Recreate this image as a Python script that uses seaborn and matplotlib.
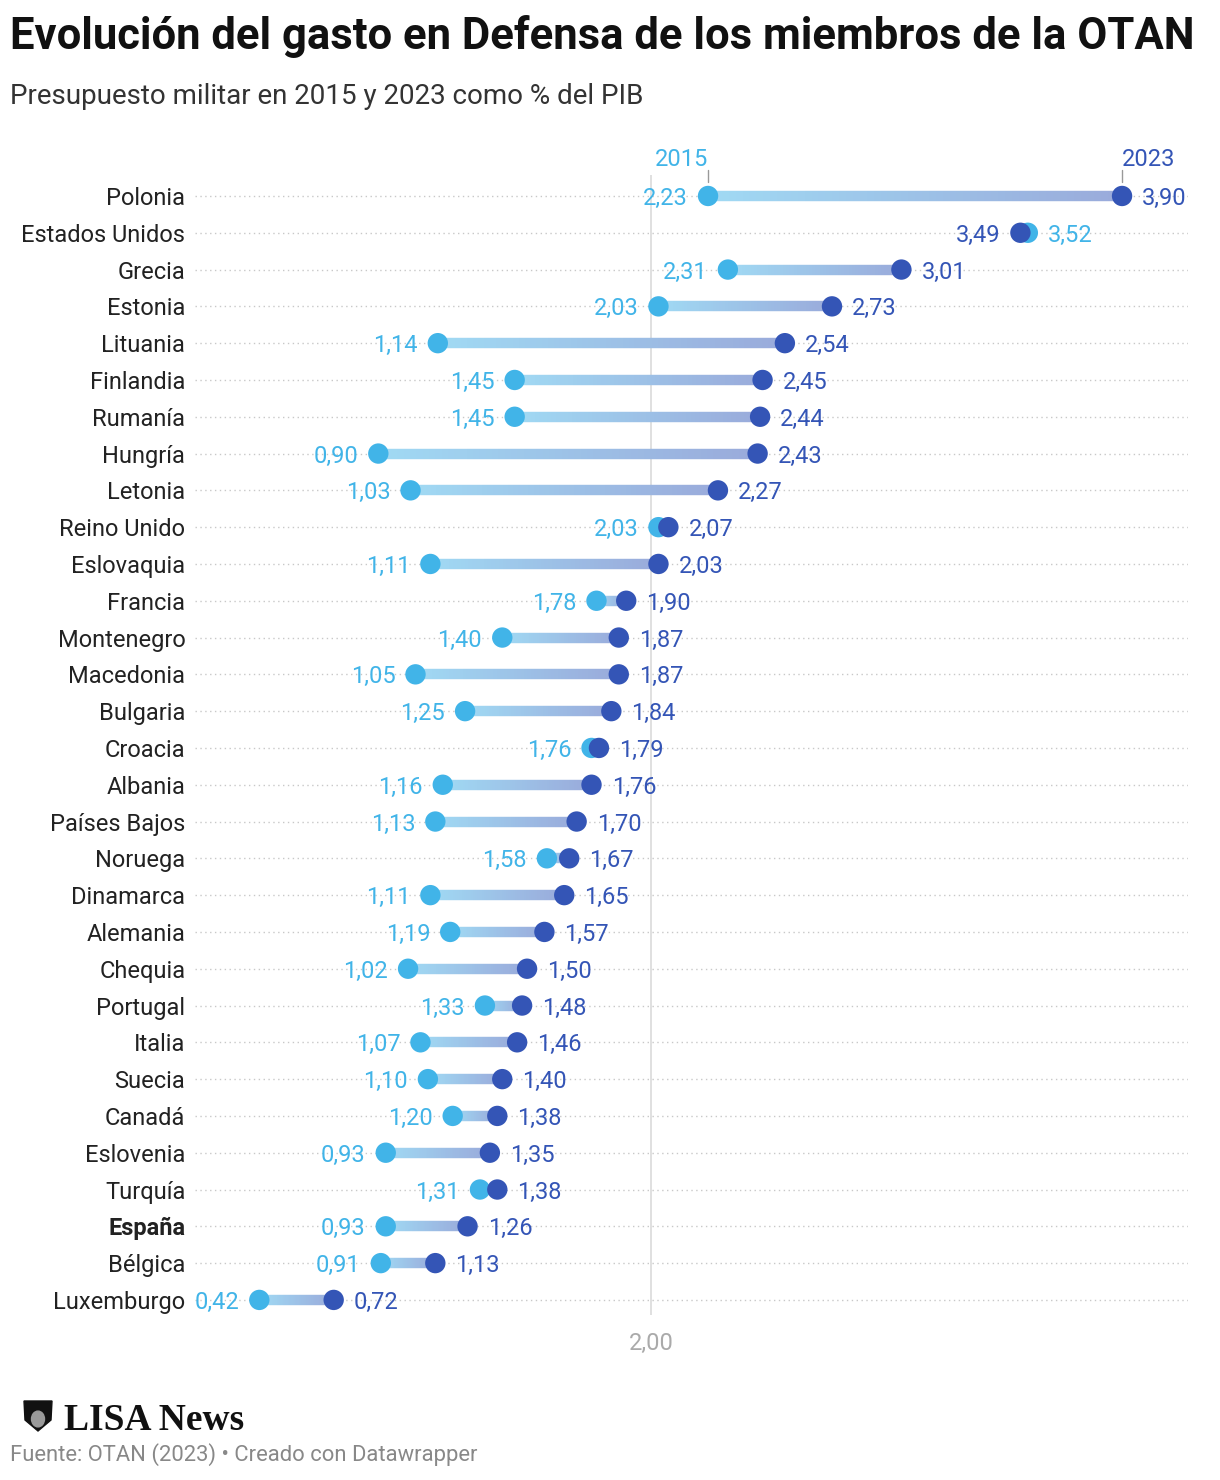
import numpy as np
import pandas as pd
import matplotlib
matplotlib.use("Agg")
import matplotlib.pyplot as plt
import seaborn as sns
from matplotlib.collections import LineCollection
from matplotlib.colors import to_rgb
from matplotlib.patches import Polygon, Circle

countries = ["Polonia", "Estados Unidos", "Grecia", "Estonia", "Lituania", "Finlandia",
             "Rumanía", "Hungría", "Letonia", "Reino Unido", "Eslovaquia", "Francia",
             "Montenegro", "Macedonia", "Bulgaria", "Croacia", "Albania", "Países Bajos",
             "Noruega", "Dinamarca", "Alemania", "Chequia", "Portugal", "Italia", "Suecia",
             "Canadá", "Eslovenia", "Turquía", "España", "Bélgica", "Luxemburgo"]
v2015 = [2.23, 3.52, 2.31, 2.03, 1.14, 1.45, 1.45, 0.90, 1.03, 2.03, 1.11, 1.78,
         1.40, 1.05, 1.25, 1.76, 1.16, 1.13, 1.58, 1.11, 1.19, 1.02, 1.33, 1.07, 1.10,
         1.20, 0.93, 1.31, 0.93, 0.91, 0.42]
v2023 = [3.90, 3.49, 3.01, 2.73, 2.54, 2.45, 2.44, 2.43, 2.27, 2.07, 2.03, 1.90,
         1.87, 1.87, 1.84, 1.79, 1.76, 1.70, 1.67, 1.65, 1.57, 1.50, 1.48, 1.46, 1.40,
         1.38, 1.35, 1.38, 1.26, 1.13, 0.72]
years = ["2015", "2023"]
ref_value = 2.00
highlight = "España"

C15 = "#41b4e8"
C23 = "#3455b6"
TXT = "#222222"

sns.set_theme(style="white")
plt.rcParams["font.family"] = ["Roboto", "DejaVu Sans"]

fig = plt.figure(figsize=(12.2, 14.8), dpi=100)
W, H = 1220, 1480
ax = fig.add_axes([195 / W, (H - 1315) / H, (1188 - 195) / W, (1315 - 175) / H])

n = len(countries)
ypos = np.arange(n)

# gridlines
for y in ypos:
    ax.axhline(y, color="#c8c8c8", lw=1.0, ls=(0, (1, 2.5)), zorder=0)
ax.axvline(ref_value, color="#dddddd", lw=1.3, zorder=0.5)

# gradient connecting lines
def blend(c, a):
    r = np.array(to_rgb(c))
    return r * a + (1 - a)

cl = blend(C15, 0.5)
cd = blend(C23, 0.5)
segs, cols = [], []
N = 60
for i, (a, b) in enumerate(zip(v2015, v2023)):
    xs = np.linspace(a, b, N + 1)
    for k in range(N):
        t = (k + 0.5) / N
        segs.append([(xs[k], i), (xs[k + 1], i)])
        cols.append(cl * (1 - t) + cd * t)
lc = LineCollection(segs, colors=cols, linewidths=7.5, capstyle="butt", zorder=1)
ax.add_collection(lc)

df = pd.DataFrame({
    "country": countries * 2,
    "y": list(ypos) * 2,
    "value": v2015 + v2023,
    "year": [years[0]] * n + [years[1]] * n,
})
sns.scatterplot(data=df, x="value", y="y", hue="year", palette={years[0]: C15, years[1]: C23},
                s=215, edgecolor="none", linewidth=0, legend=False, ax=ax, zorder=3)

# value labels
fs = 17
for i, (a, b) in enumerate(zip(v2015, v2023)):
    lo_is_15 = a <= b
    for val, col, is15 in ((a, C15, True), (b, C23, False)):
        left = (is15 == lo_is_15)
        off = -14.5 if left else 14.5
        ax.annotate(f"{val:.2f}".replace(".", ","), (val, i), xytext=(off, 0),
                    textcoords="offset points", ha="right" if left else "left",
                    va="center_baseline", color=col, fontsize=fs, zorder=4)

# year labels above first row
ax.plot([v2015[0], v2015[0]], [-0.7, -0.38], color="#999999", lw=1, clip_on=False)
ax.plot([v2023[0], v2023[0]], [-0.7, -0.38], color="#999999", lw=1, clip_on=False)
ax.text(v2015[0], -0.68, years[0], ha="right", va="bottom", color=C15, fontsize=fs, clip_on=False)
ax.text(v2023[0], -0.68, years[1], ha="left", va="bottom", color=C23, fontsize=fs, clip_on=False)

ax.set_xlim(0.1606, 4.166)
ax.set_ylim(n - 1 + 0.41, -0.57)
ax.set_yticks(ypos)
ax.set_yticklabels(countries, fontsize=fs, color=TXT, va="center_baseline")
for lab in ax.get_yticklabels():
    if lab.get_text() == highlight:
        lab.set_fontweight("bold")
ax.set_xticks([ref_value])
ax.set_xticklabels([f"{ref_value:.2f}".replace(".", ",")], fontsize=fs, color="#aaaaaa")
ax.tick_params(axis="y", length=0, pad=7)
ax.tick_params(axis="x", length=0, pad=12)
ax.set_xlabel("")
ax.set_ylabel("")
for s in ax.spines.values():
    s.set_visible(False)
ax.set_facecolor("none")

# titles
fig.text(10 / W, 1 - 36 / H, "Evolución del gasto en Defensa de los miembros de la OTAN",
         fontsize=31.4, fontweight="bold", color="#111111", ha="left", va="center")
fig.text(10 / W, 1 - 97 / H, "Presupuesto militar en 2015 y 2023 como % del PIB",
         fontsize=20, color="#333333", ha="left", va="center")

# logo
fig.text(64 / W, 1 - 1421 / H, "LISA News", fontsize=27, fontweight="bold",
         family=["Liberation Serif", "DejaVu Serif"], color="#111111", ha="left", va="center")
cx, cy = 38, 1416
shield = Polygon([((cx - 14) / W, 1 - (cy - 15) / H), ((cx + 14) / W, 1 - (cy - 15) / H),
                  ((cx + 13) / W, 1 - (cy + 4) / H), (cx / W, 1 - (cy + 15) / H),
                  ((cx - 13) / W, 1 - (cy + 4) / H)], closed=True,
                 transform=fig.transFigure, color="#111111")
fig.patches.append(shield)
fig.patches.append(Circle((cx / W, 1 - (cy + 3) / H), 6.5 / W, transform=fig.transFigure,
                          color="#9a9a9a"))
fig.text(10 / W, 1 - 1455 / H, "Fuente: OTAN (2023) • Creado con Datawrapper",
         fontsize=15.8, color="#888888", ha="left", va="center")

fig.savefig("out.png", dpi=100, facecolor="white")
